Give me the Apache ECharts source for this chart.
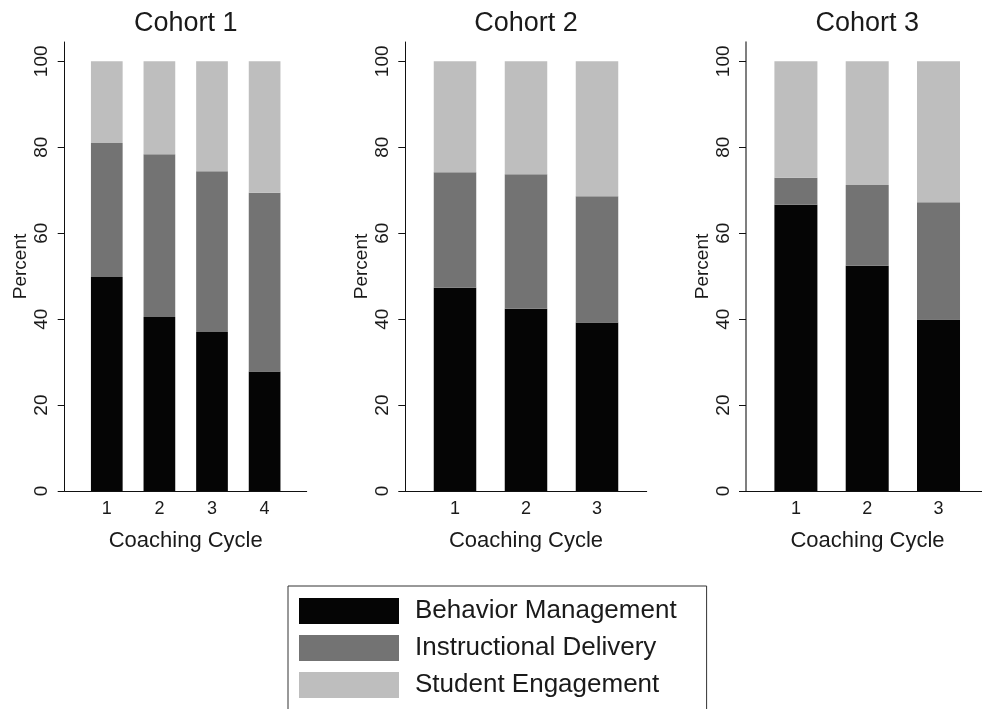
<!DOCTYPE html>
<html>
<head>
<meta charset="utf-8">
<script src="https://cdn.jsdelivr.net/npm/echarts@6/dist/echarts.min.js"></script>
<style>
  html, body { margin: 0; padding: 0; background: #fff; }
  #main { width: 982px; height: 709px; }
</style>
</head>
<body>
<div id="main"></div>
<script>
// coaching cycles per cohort
const cohorts = ['Cohort 1', 'Cohort 2', 'Cohort 3'];
const cycles = [[1, 2, 3, 4], [1, 2, 3], [1, 2, 3]];
const yTicks = [0, 20, 40, 60, 80, 100];

// percent share of each focus area (stacked to 100)
const behavior = [
  [49.8, 40.5, 37.0, 27.8],
  [47.3, 42.4, 39.2],
  [66.6, 52.4, 39.9]
];
const instructional = [
  [31.2, 37.9, 37.4, 41.6],
  [26.9, 31.3, 29.4],
  [6.3, 18.8, 27.3]
];
const engagement = [
  [19.0, 21.6, 25.6, 30.6],
  [25.8, 26.3, 31.4],
  [27.1, 28.8, 32.8]
];

const seriesNames = ['Behavior Management', 'Instructional Delivery', 'Student Engagement'];
const colors = ['#050505', '#737373', '#bebebe'];
const font = 'Liberation Sans, Arial, Helvetica, sans-serif';
const txt = '#1a1a1a';

// panel layout (px); the third panel runs off the right edge
const panels = [
  { left: 64.7, width: 242, xmin: 0.2, xmax: 4.8, bar: 31.7, axis: '#111', lw: 1 },
  { left: 405.3, width: 241.4, xmin: 0.3, xmax: 3.7, bar: 42.5, axis: '#111', lw: 1 },
  { left: 746, width: 236, xmin: 0.3, xmax: 3.61, bar: 43, axis: '#555', lw: 1.5 }
];

let grid = [], xAxis = [], yAxis = [], title = [], series = [];
panels.forEach((p, i) => {
  grid.push({ left: p.left, top: 42, width: p.width, height: 449 });
  const full = i === 2 ? 242.4 : p.width;
  title.push({
    text: cohorts[i],
    left: p.left + full / 2,
    top: 10,
    padding: 0,
    textAlign: 'center',
    textStyle: { fontFamily: font, fontSize: 27, fontWeight: 'normal', color: txt }
  });
  xAxis.push({
    type: 'value',
    gridIndex: i,
    min: p.xmin,
    max: p.xmax,
    name: 'Coaching Cycle',
    nameLocation: 'middle',
    nameGap: 39,
    nameTextStyle: { fontFamily: font, fontSize: 22, color: txt, padding: i === 2 ? [0, 0, 0, 7] : 0 },
    splitLine: { show: false },
    axisLine: { lineStyle: { color: '#111', width: 1 } },
    axisTick: { show: false },
    axisLabel: {
      customValues: cycles[i],
      fontFamily: font, fontSize: 18, color: txt, margin: 9
    }
  });
  yAxis.push({
    type: 'value',
    gridIndex: i,
    min: 0,
    max: 104.5,
    name: 'Percent',
    nameLocation: 'middle',
    nameRotate: 90,
    nameGap: 34,
    nameTextStyle: { fontFamily: font, fontSize: 19, color: txt },
    splitLine: { show: false },
    axisLine: { show: true, lineStyle: { color: p.axis, width: p.lw } },
    axisTick: { show: true, length: 7, customValues: yTicks, lineStyle: { color: '#111' } },
    axisLabel: {
      customValues: yTicks,
      rotate: 90,
      fontFamily: font, fontSize: 19, color: txt, margin: 13
    }
  });
  [behavior, instructional, engagement].forEach((vals, k) => {
    series.push({
      name: seriesNames[k],
      type: 'bar',
      xAxisIndex: i,
      yAxisIndex: i,
      stack: 'c' + i,
      barWidth: p.bar,
      itemStyle: { color: colors[k] },
      emphasis: { disabled: true },
      // value first so the stack runs along y
      encode: { x: 1, y: 0 },
      data: cycles[i].map((c, j) => [vals[i][j], c])
    });
  });
});

const chart = echarts.init(document.getElementById('main'));
chart.setOption({
  animation: false,
  backgroundColor: '#fff',
  title: title,
  legend: {
    data: seriesNames,
    orient: 'vertical',
    left: 288,
    top: 586,
    height: 200,
    icon: 'rect',
    itemWidth: 100,
    itemHeight: 26,
    itemGap: 11,
    padding: [12, 30, 12, 11],
    borderColor: '#333',
    borderWidth: 1,
    textStyle: { fontFamily: font, fontSize: 26, color: txt, padding: [0, 0, 0, 11] }
  },
  grid: grid,
  xAxis: xAxis,
  yAxis: yAxis,
  series: series
});
</script>
</body>
</html>
